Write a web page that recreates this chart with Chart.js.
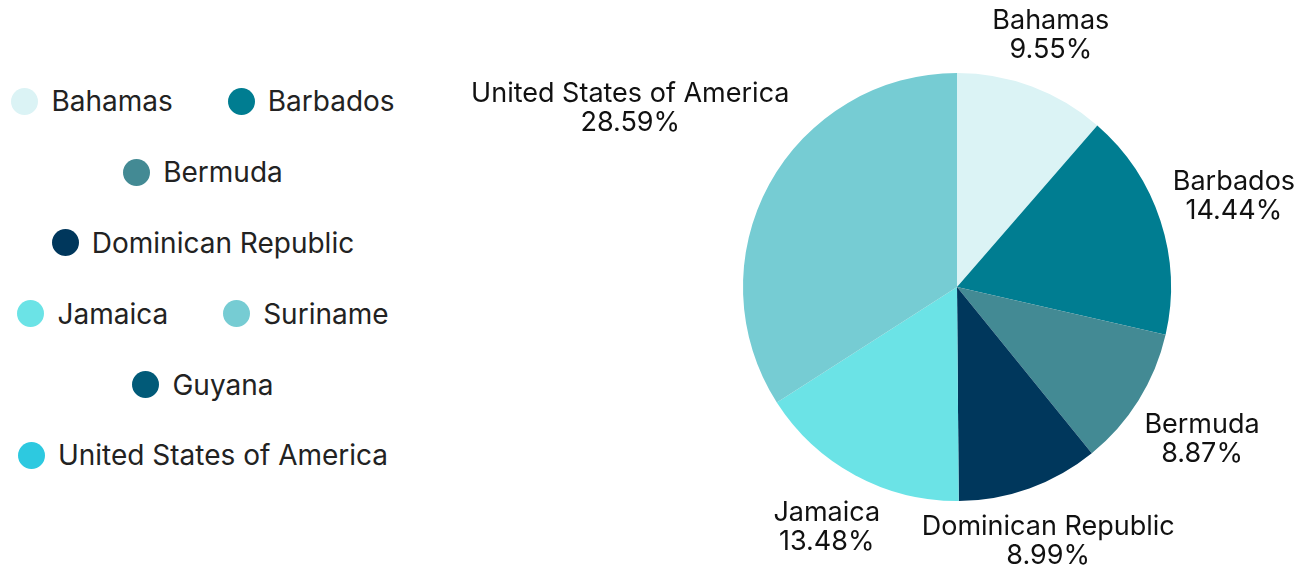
<!DOCTYPE html>
<html>
<head>
<meta charset="utf-8">
<script src="https://cdn.jsdelivr.net/npm/chart.js@4.4.1/dist/chart.umd.min.js"></script>
<style>
  html, body { margin: 0; padding: 0; background: #fff; }
  body { width: 1312px; height: 579px; position: relative; overflow: hidden; font-family: Inter, 'Noto Sans', sans-serif; }
  #pie { position: absolute; left: 0; top: 0; }
  #legend {
    position: absolute; left: -27px; top: 66px; width: 460px;
    display: flex; flex-wrap: wrap; justify-content: center;
    column-gap: 55px; row-gap: 0;
  }
  .item { display: flex; align-items: center; height: 70.8px; font-size: 28px; color: #222; white-space: nowrap; }
  .dot { width: 27px; height: 27px; border-radius: 50%; margin-right: 13px; }
</style>
</head>
<body>
<div id="legend"></div>
<canvas id="pie" width="1312" height="579"></canvas>
<script>
const legendLabels = ['Bahamas', 'Barbados', 'Bermuda', 'Dominican Republic', 'Jamaica', 'Suriname', 'Guyana', 'United States of America'];
const legendColors = ['#dbf3f5', '#007d91', '#438a94', '#00375c', '#6be3e6', '#76ccd3', '#015a78', '#2dc9e0'];

const pieLabels = ['Bahamas', 'Barbados', 'Bermuda', 'Dominican Republic', 'Jamaica', 'United States of America'];
const pieValues = [9.55, 14.44, 8.87, 8.99, 13.48, 28.59];
const pieColors = ['#dbf3f5', '#007d91', '#438a94', '#00375c', '#6be3e6', '#76ccd3'];

// legend on the left, centred rows
const legend = document.getElementById('legend');
legendLabels.forEach((name, i) => {
    legend.innerHTML += `<div class="item"><span class="dot" style="background:${legendColors[i]}"></span>${name}</div>`;
});

// labels outside each slice, pushed out along the mid angle until the box clears the pie
const outsideLabels = {
    id: 'outsideLabels',
    afterDatasetsDraw(chart) {
        const ctx = chart.ctx;
        const arcs = chart.getDatasetMeta(0).data;
        const lineGap = 29;
        const pad = 10;
        ctx.save();
        ctx.font = '27px Inter, "Noto Sans", sans-serif';
        ctx.fillStyle = '#111';
        ctx.textAlign = 'center';
        ctx.textBaseline = 'middle';
        arcs.forEach((arc, i) => {
            const mid = (arc.startAngle + arc.endAngle) / 2;
            const ux = Math.cos(mid), uy = Math.sin(mid);
            const line1 = pieLabels[i];
            const line2 = pieValues[i].toFixed(2) + '%';
            const hw = Math.max(ctx.measureText(line1).width, ctx.measureText(line2).width) / 2;
            const hh = 30;
            const target = arc.outerRadius + pad;
            let lo = 0, hi = 1000;
            for (let k = 0; k < 40; k++) {
                const d = (lo + hi) / 2;
                const cx = d * ux, cy = d * uy;
                const nx = Math.max(0, Math.abs(cx) - hw);
                const ny = Math.max(0, Math.abs(cy) - hh);
                if (Math.hypot(nx, ny) < target) lo = d; else hi = d;
            }
            const cx = arc.x + lo * ux, cy = arc.y + lo * uy;
            ctx.fillText(line1, cx, cy - lineGap / 2);
            ctx.fillText(line2, cx, cy + lineGap / 2);
        });
        ctx.restore();
    }
};

new Chart(document.getElementById('pie').getContext('2d'), {
    type: 'pie',
    data: {
        labels: pieLabels,
        datasets: [{
            data: pieValues,
            backgroundColor: pieColors,
            borderWidth: 0
        }]
    },
    options: {
        responsive: false,
        animation: false,
        layout: { padding: { left: 743, right: 141, top: 73, bottom: 78 } },
        plugins: { legend: { display: false }, tooltip: { enabled: false } }
    },
    plugins: [outsideLabels]
});
</script>
</body>
</html>
